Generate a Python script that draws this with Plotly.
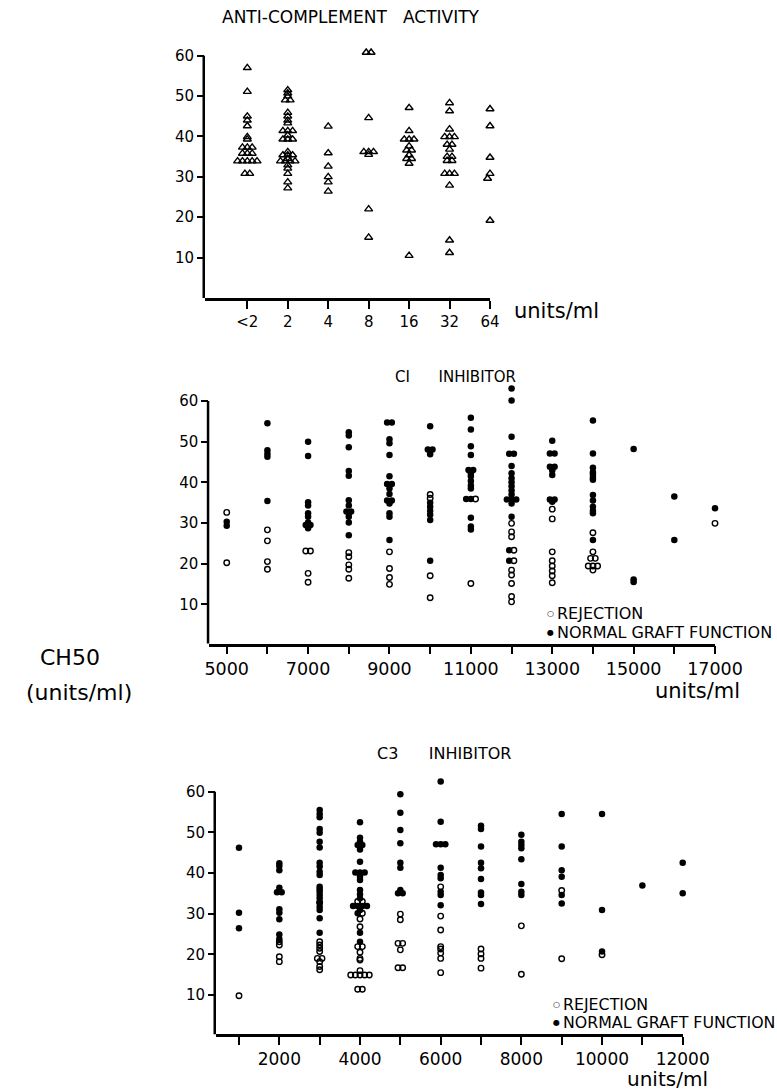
import plotly.graph_objects as go
from collections import defaultdict

# ---------------- DATA ----------------
# Panel 1: anti-complement activity (units/ml) vs CH50
ac_categories = ["<2", "2", "4", "8", "16", "32", "64"]
ac_values = [
    [57.0, 51.1, 45.0, 44.0, 42.6, 39.9, 39.3, 37.3, 37.3, 37.3, 35.8, 35.8, 35.8,
     33.9, 33.9, 33.9, 33.9, 33.9, 30.8, 30.8],
    [51.5, 50.7, 50.0, 49.0, 49.0, 45.9, 45.0, 44.0, 43.3, 41.4, 41.4, 41.4, 40.3,
     39.3, 39.3, 39.3, 36.2, 35.4, 35.4, 35.4, 34.5, 33.9, 33.9, 33.9, 33.9, 32.9,
     32.1, 30.8, 28.7, 27.2],
    [42.5, 35.9, 32.6, 30.0, 28.7, 26.4],
    [60.8, 60.8, 44.6, 36.2, 36.2, 36.2, 35.5, 22.0, 15.0],
    [47.1, 41.4, 39.3, 39.3, 39.3, 37.6, 36.6, 36.6, 35.4, 34.5, 34.5, 33.3, 10.5],
    [48.3, 46.3, 41.8, 39.9, 39.9, 39.9, 38.0, 38.0, 36.8, 35.0, 35.0, 34.0, 34.0,
     30.8, 30.8, 30.8, 27.9, 14.3, 11.2],
    [46.8, 42.6, 34.8, 30.8, 29.6, 29.6, 19.2],
]

# Panel 2: C1 inhibitor (units/ml) vs CH50
c1_conc = [5000, 6000, 7000, 8000, 9000, 10000, 11000, 12000, 13000, 14000, 15000, 16000, 17000]
c1_normal = [
    [30.3, 29.3],
    [54.5, 47.9, 47.0, 46.3, 35.4],
    [50.0, 46.5, 35.1, 34.3, 32.4, 31.5, 30.1, 29.5, 29.5, 28.7],
    [52.3, 51.5, 48.6, 42.8, 41.6, 35.6, 34.3, 32.8, 32.8, 32.4, 31.5, 30.1, 27.0],
    [54.7, 54.7, 50.6, 49.6, 46.7, 41.5, 39.6, 39.6, 38.5, 37.1, 35.5, 35.5, 34.8, 32.4, 31.5, 25.8],
    [53.8, 48.1, 48.1, 46.9, 35.0, 34.0, 33.0, 32.0, 30.7, 20.7],
    [55.9, 53.0, 48.9, 46.7, 43.0, 43.0, 42.2, 41.5, 40.3, 39.2, 38.5, 35.9, 35.9, 31.3, 29.1, 28.4],
    [63.1, 60.1, 51.2, 47.0, 47.0, 44.0, 42.2, 41.0, 40.0, 39.0, 38.0, 37.0, 35.8, 35.8, 35.8,
     34.8, 31.5, 23.3, 20.7],
    [50.2, 47.1, 47.1, 43.8, 43.8, 42.9, 41.8, 35.8, 35.8, 35.2],
    [55.2, 47.1, 43.6, 42.5, 41.9, 41.1, 40.6, 36.9, 35.5, 34.0, 33.0, 32.4, 25.8],
    [48.2, 16.1, 15.5],
    [36.5, 25.8],
    [33.6],
]
c1_rejection = [
    [32.6, 20.2],
    [28.3, 25.6, 20.5, 18.6],
    [23.1, 23.1, 17.6, 15.4],
    [22.7, 21.7, 19.7, 18.6, 16.4],
    [22.9, 18.8, 16.6, 14.9],
    [37.0, 36.1, 17.0, 11.6],
    [35.9, 15.1],
    [29.9, 27.8, 26.6, 23.3, 20.7, 18.4, 17.2, 15.1, 11.9, 10.6],
    [33.4, 31.0, 22.9, 20.7, 19.4, 18.2, 17.0, 15.3],
    [27.6, 22.9, 21.3, 21.3, 19.4, 19.4, 19.4, 18.4],
    [],
    [],
    [29.9],
]

# Panel 3: C3 inhibitor (units/ml) vs CH50
c3_conc = [1000, 2000, 3000, 4000, 5000, 6000, 7000, 8000, 9000, 10000, 11000, 12000]
c3_normal = [
    [46.2, 30.2, 26.4],
    [42.4, 41.7, 40.7, 36.4, 35.3, 35.3, 31.1, 30.2, 28.6, 24.9, 23.8],
    [55.5, 54.5, 53.7, 50.8, 49.9, 47.7, 46.3, 42.5, 41.6, 40.3, 39.5, 36.6, 36.0, 35.4,
     34.6, 33.8, 32.8, 31.7, 30.9, 28.9, 25.3],
    [52.5, 48.7, 47.7, 46.9, 46.9, 45.8, 42.8, 40.1, 40.1, 40.1, 39.1, 38.3, 35.8, 34.8,
     33.8, 31.9, 31.9, 31.9, 31.9, 30.9, 30.1, 25.3, 23.1],
    [59.4, 54.8, 50.6, 47.3, 42.5, 41.3, 35.8, 35.0, 35.0],
    [62.5, 52.6, 47.1, 47.1, 47.1, 41.3, 39.5, 38.7, 35.4, 34.6, 32.1],
    [51.6, 50.8, 46.5, 42.5, 41.2, 38.5, 35.2, 34.6, 32.4],
    [49.4, 47.7, 46.9, 46.1, 43.4, 37.3, 35.4, 34.6],
    [54.5, 46.5, 40.7, 39.1, 34.6, 32.5],
    [54.5, 30.9, 20.7],
    [36.9],
    [42.5, 35.0],
]
c3_rejection = [
    [9.8],
    [23.1, 22.3, 19.4, 18.2],
    [32.7, 23.1, 22.3, 21.5, 20.7, 19.0, 19.0, 18.2, 17.0, 16.2],
    [33.0, 33.0, 30.1, 28.7, 26.8, 21.9, 21.9, 20.5, 19.0, 18.6, 16.0,
     14.9, 14.9, 14.9, 14.9, 14.9, 11.4, 11.4],
    [29.9, 28.5, 22.7, 22.7, 21.1, 16.7, 16.7],
    [36.6, 29.4, 26.0, 21.9, 21.3, 20.3, 19.0, 15.5],
    [21.3, 20.1, 19.0, 16.6],
    [27.0, 15.1],
    [35.7, 18.9],
    [19.9],
    [],
    [],
]

c1_ticks = list(range(5000, 17001, 1000))
c1_ticklabels = ["5000", "", "7000", "", "9000", "", "11000", "", "13000", "", "15000", "", "17000"]
c3_ticks = list(range(1000, 12001, 1000))
c3_ticklabels = ["", "2000", "", "4000", "", "6000", "", "8000", "", "10000", "", "12000"]
y_ticks = [10, 20, 30, 40, 50, 60]
y_axis_top = 60

# ---------------- LAYOUT HELPERS ----------------
W, H = 777, 1091
FONT = "DejaVu Sans"
LW = 2.5


def fx(p):
    return p / W


def fy(p):
    return 1 - p / H


def spread(xs, ys, step):
    """Dot-plot layout: points sharing a value are set side by side."""
    groups = defaultdict(list)
    for i, (x, y) in enumerate(zip(xs, ys)):
        groups[(x, round(y, 1))].append(i)
    out = [float(x) for x in xs]
    for idx in groups.values():
        n = len(idx)
        for r, i in enumerate(idx):
            out[i] = xs[i] + (r - (n - 1) / 2) * step
    return out


def flatten(conc, lists):
    xs, ys = [], []
    for c, vals in zip(conc, lists):
        for v in vals:
            xs.append(c)
            ys.append(v)
    return xs, ys


fig = go.Figure()

# Panel 1
ax, ay = flatten(list(range(len(ac_categories))), ac_values)
ax_s = spread(ax, ay, 0.12)
fig.add_trace(go.Scatter(
    x=ax_s, y=ay, mode="markers", xaxis="x", yaxis="y", cliponaxis=False,
    marker=dict(symbol="triangle-up-open", size=7, color="black", line=dict(width=1.4, color="black")),
    showlegend=False))

# Panel 2 & 3
for conc, norm, rej, xa, ya, step in [
    (c1_conc, c1_normal, c1_rejection, "x2", "y2", 115),
    (c3_conc, c3_normal, c3_rejection, "x3", "y3", 115),
]:
    nx, ny = flatten(conc, norm)
    rx, ry = flatten(conc, rej)
    allx = spread(nx + rx, ny + ry, step)
    fig.add_trace(go.Scatter(
        x=allx[len(nx):], y=ry, mode="markers", xaxis=xa, yaxis=ya, cliponaxis=False,
        marker=dict(symbol="circle-open", size=5.5, color="black", line=dict(width=1.4, color="black")),
        showlegend=False))
    fig.add_trace(go.Scatter(
        x=allx[:len(nx)], y=ny, mode="markers", xaxis=xa, yaxis=ya, cliponaxis=False,
        marker=dict(symbol="circle", size=6.5, color="black", line=dict(width=0)),
        showlegend=False))

axis_common = dict(linecolor="black", linewidth=LW, showgrid=False, automargin=False,
                   zeroline=False, ticks="outside", tickwidth=2, tickcolor="black",
                   tickfont=dict(family=FONT, size=15, color="black"), fixedrange=True)

# panel geometry (pixels): x-axis left/right, y pixel of value 60, y pixel of bottom axis
panels = {
    "1": dict(xl=205, xr=490, y60=55.7, yb=298.0, ymin=0.0, xrange=[-1.046, 6]),
    "2": dict(xl=209.3, xr=715, y60=401.0, yb=643.5, ymin=0.35, xrange=[4572, 17000]),
    "3": dict(xl=216, xr=682.7, y60=791.7, yb=1034.3, ymin=0.33, xrange=[430, 12000]),
}
Y_TOP = 64  # extra headroom so the few points above 60 stay visible

layout_axes = {}
shapes = []
for key, p in panels.items():
    ppu = (p["yb"] - p["y60"]) / (y_axis_top - p["ymin"])
    ytop_px = p["y60"] - (Y_TOP - y_axis_top) * ppu
    xname = "xaxis" if key == "1" else "xaxis" + key
    yname = "yaxis" if key == "1" else "yaxis" + key
    xid = "x" if key == "1" else "x" + key
    yid = "y" if key == "1" else "y" + key
    layout_axes[xname] = dict(axis_common, showline=True, domain=[fx(p["xl"]), fx(p["xr"])],
                              range=p["xrange"], anchor=yid, ticklen=8)
    layout_axes[yname] = dict(axis_common, showline=False, domain=[fy(p["yb"]), fy(ytop_px)],
                              range=[p["ymin"], Y_TOP], anchor=xid, tickmode="array",
                              tickvals=y_ticks, ticklen=7)
    # vertical axis line stopping at 60
    dx = -(LW / 2) / (p["xr"] - p["xl"])
    shapes.append(dict(type="line", xref=xid + " domain", yref=yid,
                       x0=dx, x1=dx, y0=p["ymin"] - LW / ppu, y1=y_axis_top,
                       line=dict(color="black", width=LW)))

layout_axes["xaxis"].update(tickmode="array", tickvals=list(range(len(ac_categories))),
                            ticktext=ac_categories)
layout_axes["xaxis2"].update(tickmode="array", tickvals=c1_ticks, ticktext=c1_ticklabels,
                             tickfont=dict(family=FONT, size=17.5, color="black"))
layout_axes["xaxis3"].update(tickmode="array", tickvals=c3_ticks, ticktext=c3_ticklabels,
                             tickfont=dict(family=FONT, size=17, color="black"))

fig.update_layout(
    width=W, height=H, margin=dict(l=0, r=0, t=0, b=0, pad=0), autosize=False,
    paper_bgcolor="white", plot_bgcolor="white", showlegend=False,
    shapes=shapes, **layout_axes)

NB = "\u00a0"


def ann(text, x, y, size, xanchor="left"):
    fig.add_annotation(text=text, x=fx(x), y=fy(y), xref="paper", yref="paper",
                       xanchor=xanchor, yanchor="middle", showarrow=False,
                       font=dict(family=FONT, size=size, color="black"))


# Titles
ann("ANTI-COMPLEMENT" + NB * 3 + "ACTIVITY", 220, 17, 17)
ann("CI" + NB * 6 + "INHIBITOR", 393, 377, 15)
ann("C3" + NB * 6 + "INHIBITOR", 375, 753, 16)

# Unit labels
ann("units/ml", 512, 311, 21)
ann("units/ml", 742, 691, 21, xanchor="right")
ann("units/ml", 710, 1078.5, 20, xanchor="right")

# Shared y-axis label
ann("CH50", 38, 657, 22)
ann("(units/ml)", 24, 692, 22)

# Legends
ann("\u25cb", 545, 613.5, 8)
ann("REJECTION", 555, 613.5, 16)
ann("\u25cf", 545, 632, 8)
ann("NORMAL GRAFT FUNCTION", 555, 632, 16)
ann("\u25cb", 551, 1004, 8)
ann("REJECTION", 561, 1004, 15.8)
ann("\u25cf", 551, 1022.5, 8)
ann("NORMAL GRAFT FUNCTION", 561, 1022.5, 15.8)

fig.write_html("out.html", config={"displayModeBar": False},
               post_script="document.body.style.margin='0';")
